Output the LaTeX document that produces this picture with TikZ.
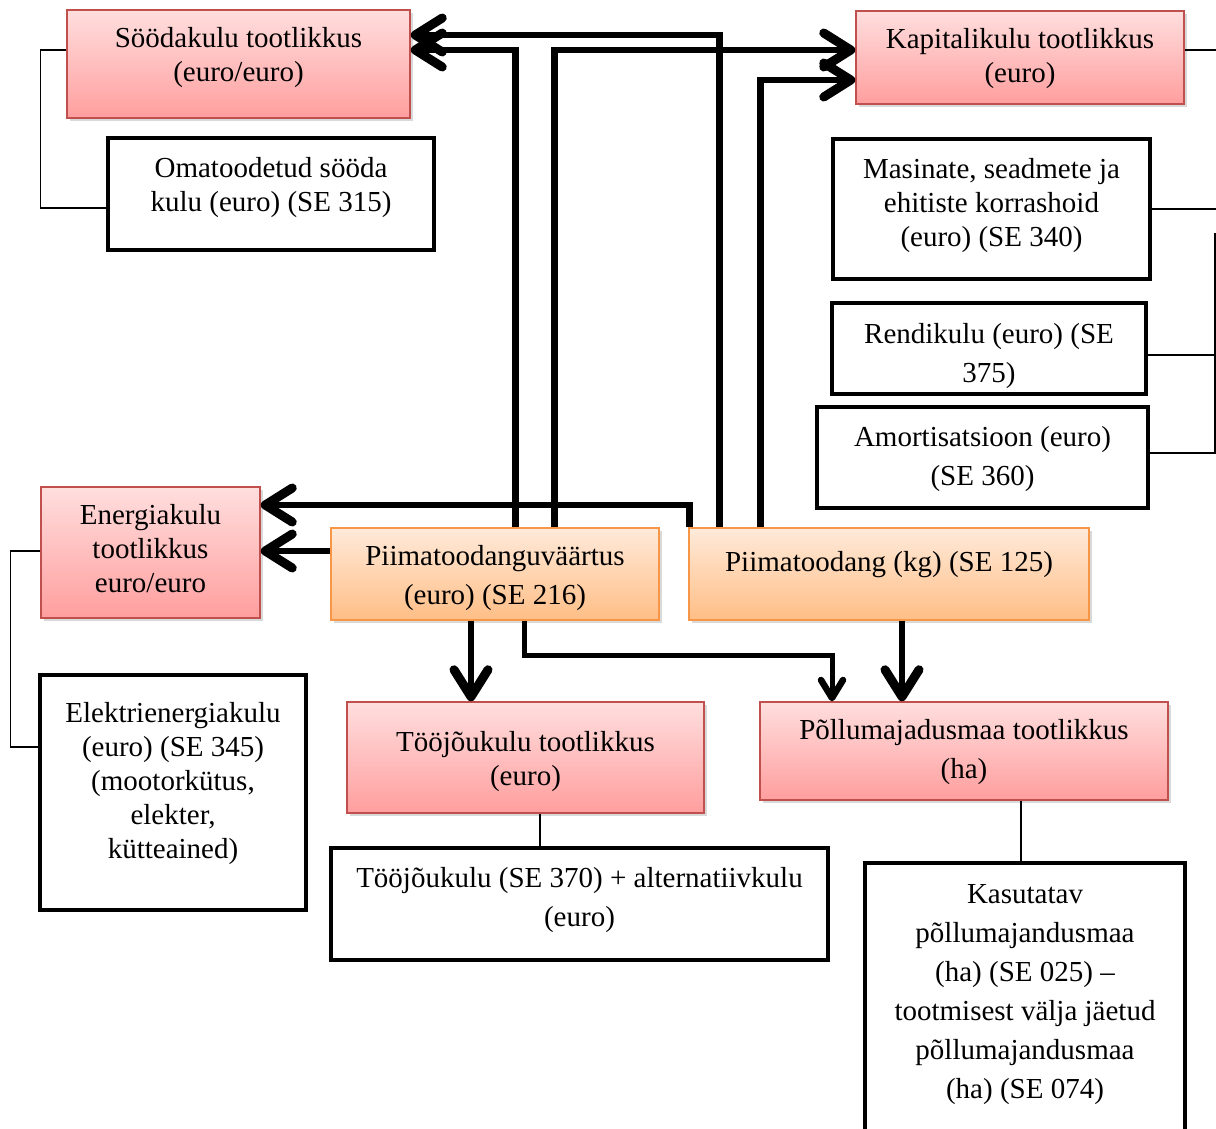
\documentclass[tikz,border=0pt]{standalone}
\usepackage{fontspec}
\setmainfont{Liberation Serif}
\usetikzlibrary{arrows.meta,shadows}
\definecolor{pinkT}{RGB}{255,222,222}
\definecolor{pinkB}{RGB}{255,158,158}
\definecolor{pinkD}{RGB}{192,80,77}
\definecolor{orT}{RGB}{255,234,218}
\definecolor{orB}{RGB}{255,190,134}
\definecolor{orD}{RGB}{247,150,70}
\begin{document}
\begin{tikzpicture}[x=1pt,y=-1pt,
  every node/.style={align=center, inner sep=0pt, font=\fontsize{29}{34}\selectfont},
  wide/.style={font=\fontsize{29}{39}\selectfont},
  pinkbox/.style={draw=pinkD, line width=1.5pt, top color=pinkT, bottom color=pinkB,
    drop shadow={opacity=0.3, shadow xshift=3pt, shadow yshift=-3pt}},
  orangebox/.style={draw=orD, line width=1.5pt, top color=orT, bottom color=orB,
    drop shadow={opacity=0.3, shadow xshift=3pt, shadow yshift=-3pt}},
  blackbox/.style={draw=black, line width=4pt, fill=white},
  thinline/.style={line width=1.3pt},
  arr/.style={line width=6.5pt, -{Straight Barb[length=27pt,width=34pt,line width=9pt,round]}},
  arrs/.style={line width=5pt, -{Straight Barb[length=18pt,width=22pt,line width=6.5pt,round]}}]
\clip (0,0) rectangle (1216,1128);

% boxes
\node[pinkbox, minimum width=343pt, minimum height=108pt] (sood) at (238.5,64) {};
\node (soodT) at ([yshift=6pt]sood.center) {Söödakulu tootlikkus\\(euro/euro)};
\node[blackbox, minimum width=326pt, minimum height=112pt] (oma) at (271,194) {};
\node (omaT) at ([yshift=6pt]oma.center) {Omatoodetud sööda\\kulu (euro) (SE 315)};
\node[pinkbox, minimum width=328pt, minimum height=93pt] (kap) at (1020,57.5) {};
\node (kapT) at ([yshift=-1pt]kap.center) {Kapitalikulu tootlikkus\\(euro)};
\node[blackbox, minimum width=317pt, minimum height=140pt] (mas) at (991.5,209) {};
\node (masT) at ([yshift=3.5pt]mas.center) {Masinate, seadmete ja\\ehitiste korrashoid\\(euro) (SE 340)};
\node[wide] (rendT) at (989,356.5) {Rendikulu (euro) (SE\\375)};
\node[draw=black, line width=4pt, minimum width=314pt, minimum height=91pt] (rend) at (989,348.5) {};
\node[blackbox, minimum width=331pt, minimum height=101pt] (amor) at (982.5,457.5) {};
\node[wide] (amorT) at ([yshift=-2pt]amor.center) {Amortisatsioon (euro)\\(SE 360)};
\node[pinkbox, minimum width=219pt, minimum height=131pt] (ener) at (150.5,552.5) {};
\node (enerT) at ([yshift=4pt]ener.center) {Energiakulu\\tootlikkus\\euro/euro};
\node[orangebox, minimum width=328pt, minimum height=92pt] (pv) at (495,574) {};
\node[wide] (pvT) at ([yshift=-4pt]pv.center) {Piimatoodanguväärtus\\(euro) (SE 216)};
\node[orangebox, minimum width=400pt, minimum height=92pt] (pt) at (889,574) {};
\node (ptT) at ([yshift=9pt]pt.center) {Piimatoodang (kg) (SE 125)};
\node[blackbox, minimum width=266pt, minimum height=235pt] (elek) at (173,792.5) {};
\node (elekT) at ([yshift=9pt]elek.center) {Elektrienergiakulu\\(euro) (SE 345)\\(mootorkütus,\\elekter,\\kütteained)};
\node[pinkbox, minimum width=357pt, minimum height=111pt] (tjt) at (525.5,757.5) {};
\node (tjtT) at ([yshift=-4pt]tjt.center) {Tööjõukulu tootlikkus\\(euro)};
\node[pinkbox, minimum width=408pt, minimum height=98pt] (pol) at (964,751) {};
\node[wide] (polT) at ([yshift=-1pt]pol.center) {Põllumajadusmaa tootlikkus\\(ha)};
\node[blackbox, minimum width=497pt, minimum height=112pt] (tj) at (579.5,904) {};
\node[wide] (tjT) at ([yshift=4pt]tj.center) {Tööjõukulu (SE 370) + alternatiivkulu\\(euro)};
\node[blackbox, minimum width=320pt, minimum height=274pt] (kas) at (1025,1000) {};
\node[wide] (kasT) at ([yshift=5pt]kas.center) {Kasutatav\\põllumajandusmaa\\(ha) (SE 025) –\\tootmisest välja jäetud\\põllumajandusmaa\\(ha) (SE 074)};

% thin connectors
\coordinate (rbus) at (1215,233);
\draw[thinline] ([yshift=14pt]sood.west) -- ++(-26,0) |- ([yshift=-14pt]oma.west);
\draw[thinline] ([yshift=7.5pt]kap.east) -- ++(34,0);
\draw[thinline] (mas.east) -- ++(68,0);
\draw[thinline] ([yshift=-6.5pt]rend.east) -- ++(72,0);
\draw[thinline] ([yshift=4.5pt]amor.east) -| (rbus);
\draw[thinline] ([yshift=1.5pt]ener.west) -- ++(-30,0) |- ([yshift=45.5pt]elek.west);
\draw[thinline] ([xshift=14.5pt]tjt.south) -- ([xshift=-39.5pt]tj.north);
\draw[thinline] ([xshift=57pt]pol.south) -- ([xshift=-4pt]kas.north);

% thick arrows
\draw[arr] ([xshift=31pt]pt.north west) |- ([yshift=29pt]sood.east);
\draw[arr] ([xshift=185pt]pv.north west) |- ([yshift=14pt]sood.east);
\draw[arr] ([xshift=224pt]pv.north west) |- ([yshift=7.5pt]kap.west);
\draw[arr] ([xshift=72pt]pt.north west) |- ([yshift=-22.5pt]kap.west);
\draw[arr] ([xshift=1pt]pt.north west) |- ([yshift=47.5pt]ener.east);
\draw[arr] ([yshift=23pt]pv.west) -- ([yshift=1.5pt]ener.east);
\draw[arr] ([xshift=-24pt]pv.south) -- ([xshift=-54.5pt]tjt.north);
\draw[arrs] ([xshift=29pt]pv.south) -- ++(0,35) -| ([xshift=-132pt]pol.north);
\draw[arr] ([xshift=13pt]pt.south) -- ([xshift=-62pt]pol.north);
\end{tikzpicture}
\end{document}
